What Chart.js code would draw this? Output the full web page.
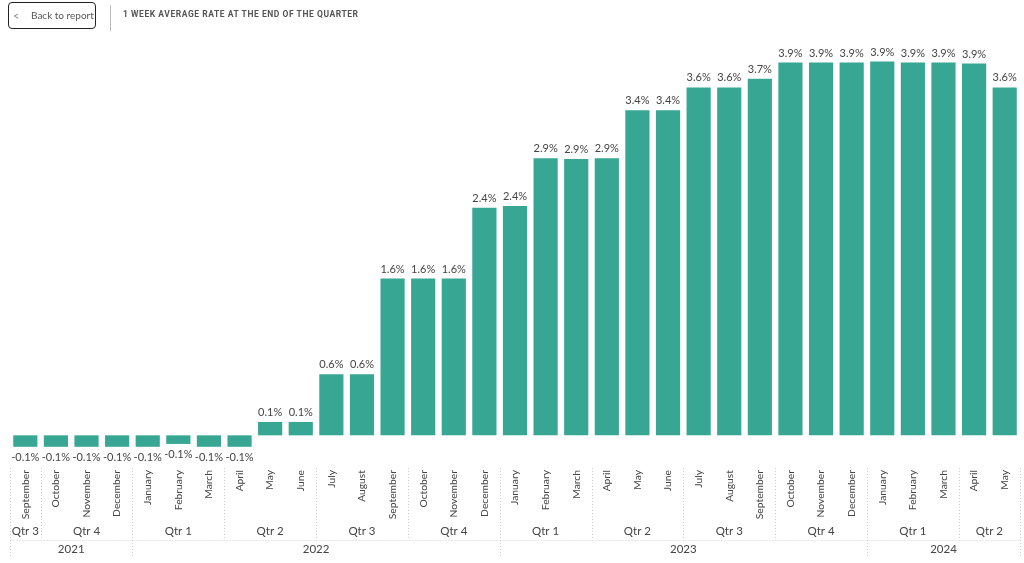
<!DOCTYPE html>
<html>
<head>
<meta charset="utf-8">
<script src="https://cdn.jsdelivr.net/npm/chart.js@4.4.1/dist/chart.umd.min.js"></script>
<style>
  html, body { margin: 0; padding: 0; background: #fff; }
  body { width: 1024px; height: 563px; position: relative; overflow: hidden; font-family: Lato, sans-serif; }
  #back {
    position: absolute; left: 8px; top: 2px; width: 86px; height: 25px;
    border: 1.5px solid #222; border-radius: 4px;
    font-size: 10px; color: #555; line-height: 25px; white-space: nowrap;
  }
  #back .chev { position: absolute; left: 4px; top: 0; color: #888; font-size: 11px; }
  #back .txt { position: absolute; left: 22px; top: 0; }
  .sep { position: absolute; left: 110px; top: 5px; width: 1px; height: 26px; background: #bbb; }
  .title {
    position: absolute; left: 123px; top: 9px; white-space: nowrap;
    font-family: Roboto, sans-serif; font-weight: bold; font-size: 8.5px;
    letter-spacing: 0.55px; color: #555;
  }
  .wrap { position: absolute; left: 0; top: 0; width: 1024px; height: 563px; }
</style>
</head>
<body>
<div class="wrap"><canvas id="myChart"></canvas></div>
<div id="back"><span class="chev">&lt;</span><span class="txt">Back to report</span></div>
<div class="sep"></div>
<div class="title">1 WEEK AVERAGE RATE AT THE END OF THE QUARTER</div>
<script>
var months = ["September", "October", "November", "December",
  "January", "February", "March", "April", "May", "June", "July", "August", "September", "October", "November", "December",
  "January", "February", "March", "April", "May", "June", "July", "August", "September", "October", "November", "December",
  "January", "February", "March", "April", "May"];
var quarters = ["Qtr 3", "Qtr 4", "Qtr 4", "Qtr 4",
  "Qtr 1", "Qtr 1", "Qtr 1", "Qtr 2", "Qtr 2", "Qtr 2", "Qtr 3", "Qtr 3", "Qtr 3", "Qtr 4", "Qtr 4", "Qtr 4",
  "Qtr 1", "Qtr 1", "Qtr 1", "Qtr 2", "Qtr 2", "Qtr 2", "Qtr 3", "Qtr 3", "Qtr 3", "Qtr 4", "Qtr 4", "Qtr 4",
  "Qtr 1", "Qtr 1", "Qtr 1", "Qtr 2", "Qtr 2"];
var years = ["2021", "2021", "2021", "2021",
  "2022", "2022", "2022", "2022", "2022", "2022", "2022", "2022", "2022", "2022", "2022", "2022",
  "2023", "2023", "2023", "2023", "2023", "2023", "2023", "2023", "2023", "2023", "2023", "2023",
  "2024", "2024", "2024", "2024", "2024"];
var rates = [-0.12, -0.12, -0.12, -0.12,
  -0.12, -0.09, -0.12, -0.12, 0.14, 0.14, 0.64, 0.64, 1.64, 1.64, 1.64, 2.38,
  2.40, 2.90, 2.89, 2.90, 3.40, 3.40, 3.64, 3.64, 3.73, 3.90, 3.90, 3.90,
  3.91, 3.90, 3.90, 3.89, 3.64];

var barColor = "#37a794";
var lineColor = "#cfcfcf";

// value labels above / below each bar
var valueLabels = {
  id: "valueLabels",
  afterDatasetsDraw: function(chart) {
    var ctx = chart.ctx;
    var meta = chart.getDatasetMeta(0);
    ctx.save();
    ctx.font = "11px Lato";
    ctx.fillStyle = "#444";
    ctx.textAlign = "center";
    meta.data.forEach(function(bar, i) {
      var v = rates[i];
      var txt = v.toFixed(1) + "%";
      if (v >= 0) {
        ctx.textBaseline = "bottom";
        ctx.fillText(txt, bar.x, bar.y - 4);
      } else {
        ctx.textBaseline = "top";
        ctx.fillText(txt, bar.x, bar.y + 5);
      }
    });
    ctx.restore();
  }
};

function dotted(ctx, x1, y1, x2, y2) {
  ctx.beginPath();
  ctx.moveTo(x1, y1);
  ctx.lineTo(x2, y2);
  ctx.stroke();
}

// quarter and year rows under the month labels
var groupAxis = {
  id: "groupAxis",
  afterDraw: function(chart) {
    var ctx = chart.ctx;
    var x = chart.scales.x;
    var half = (x.getPixelForValue(1) - x.getPixelForValue(0)) / 2;
    var n = months.length;
    var left = Math.round(x.getPixelForValue(0) - half) + 0.5;
    var right = Math.round(x.getPixelForValue(n - 1) + half) + 0.5;
    var top = 468, qLine = 540, bottom = 558;
    ctx.save();
    ctx.strokeStyle = lineColor;
    ctx.lineWidth = 1;
    ctx.setLineDash([1, 2]);
    dotted(ctx, left, top, left, bottom);
    dotted(ctx, right, top, right, bottom);
    dotted(ctx, left, qLine + 0.5, right, qLine + 0.5);
    ctx.font = "11.5px Lato";
    ctx.fillStyle = "#444";
    ctx.textAlign = "center";
    ctx.textBaseline = "middle";
    var s = 0;
    for (var i = 1; i <= n; i++) {
      if (i == n || quarters[i] != quarters[s] || years[i] != years[s]) {
        var a = x.getPixelForValue(s) - half, b = x.getPixelForValue(i - 1) + half;
        ctx.fillText(quarters[s], (a + b) / 2, 531);
        if (i < n) {
          var bx = Math.round(b) + 0.5;
          dotted(ctx, bx, top, bx, years[i] != years[s] ? bottom : qLine);
        }
        s = i;
      }
    }
    s = 0;
    for (var j = 1; j <= n; j++) {
      if (j == n || years[j] != years[s]) {
        var a2 = x.getPixelForValue(s) - half, b2 = x.getPixelForValue(j - 1) + half;
        ctx.fillText(years[s], (a2 + b2) / 2, 549);
        s = j;
      }
    }
    ctx.restore();
  }
};

new Chart("myChart", {
  type: "bar",
  data: {
    labels: months,
    datasets: [{
      data: rates,
      backgroundColor: barColor,
      barPercentage: 0.79,
      categoryPercentage: 1
    }]
  },
  options: {
    responsive: true,
    maintainAspectRatio: false,
    animation: false,
    layout: { padding: { top: 53, left: 10, right: 4, bottom: 0 } },
    plugins: {
      legend: { display: false },
      tooltip: { enabled: false }
    },
    scales: {
      y: {
        display: false,
        min: -0.3,
        max: 4.0
      },
      x: {
        grid: { display: false, drawTicks: false },
        border: { display: false },
        afterFit: function(scale) { scale.height = 99; },
        ticks: {
          autoSkip: false,
          maxRotation: 90,
          minRotation: 90,
          padding: 6,
          color: "#444",
          font: { family: "Lato", size: 10.3 }
        }
      }
    }
  },
  plugins: [valueLabels, groupAxis]
});
</script>
</body>
</html>
